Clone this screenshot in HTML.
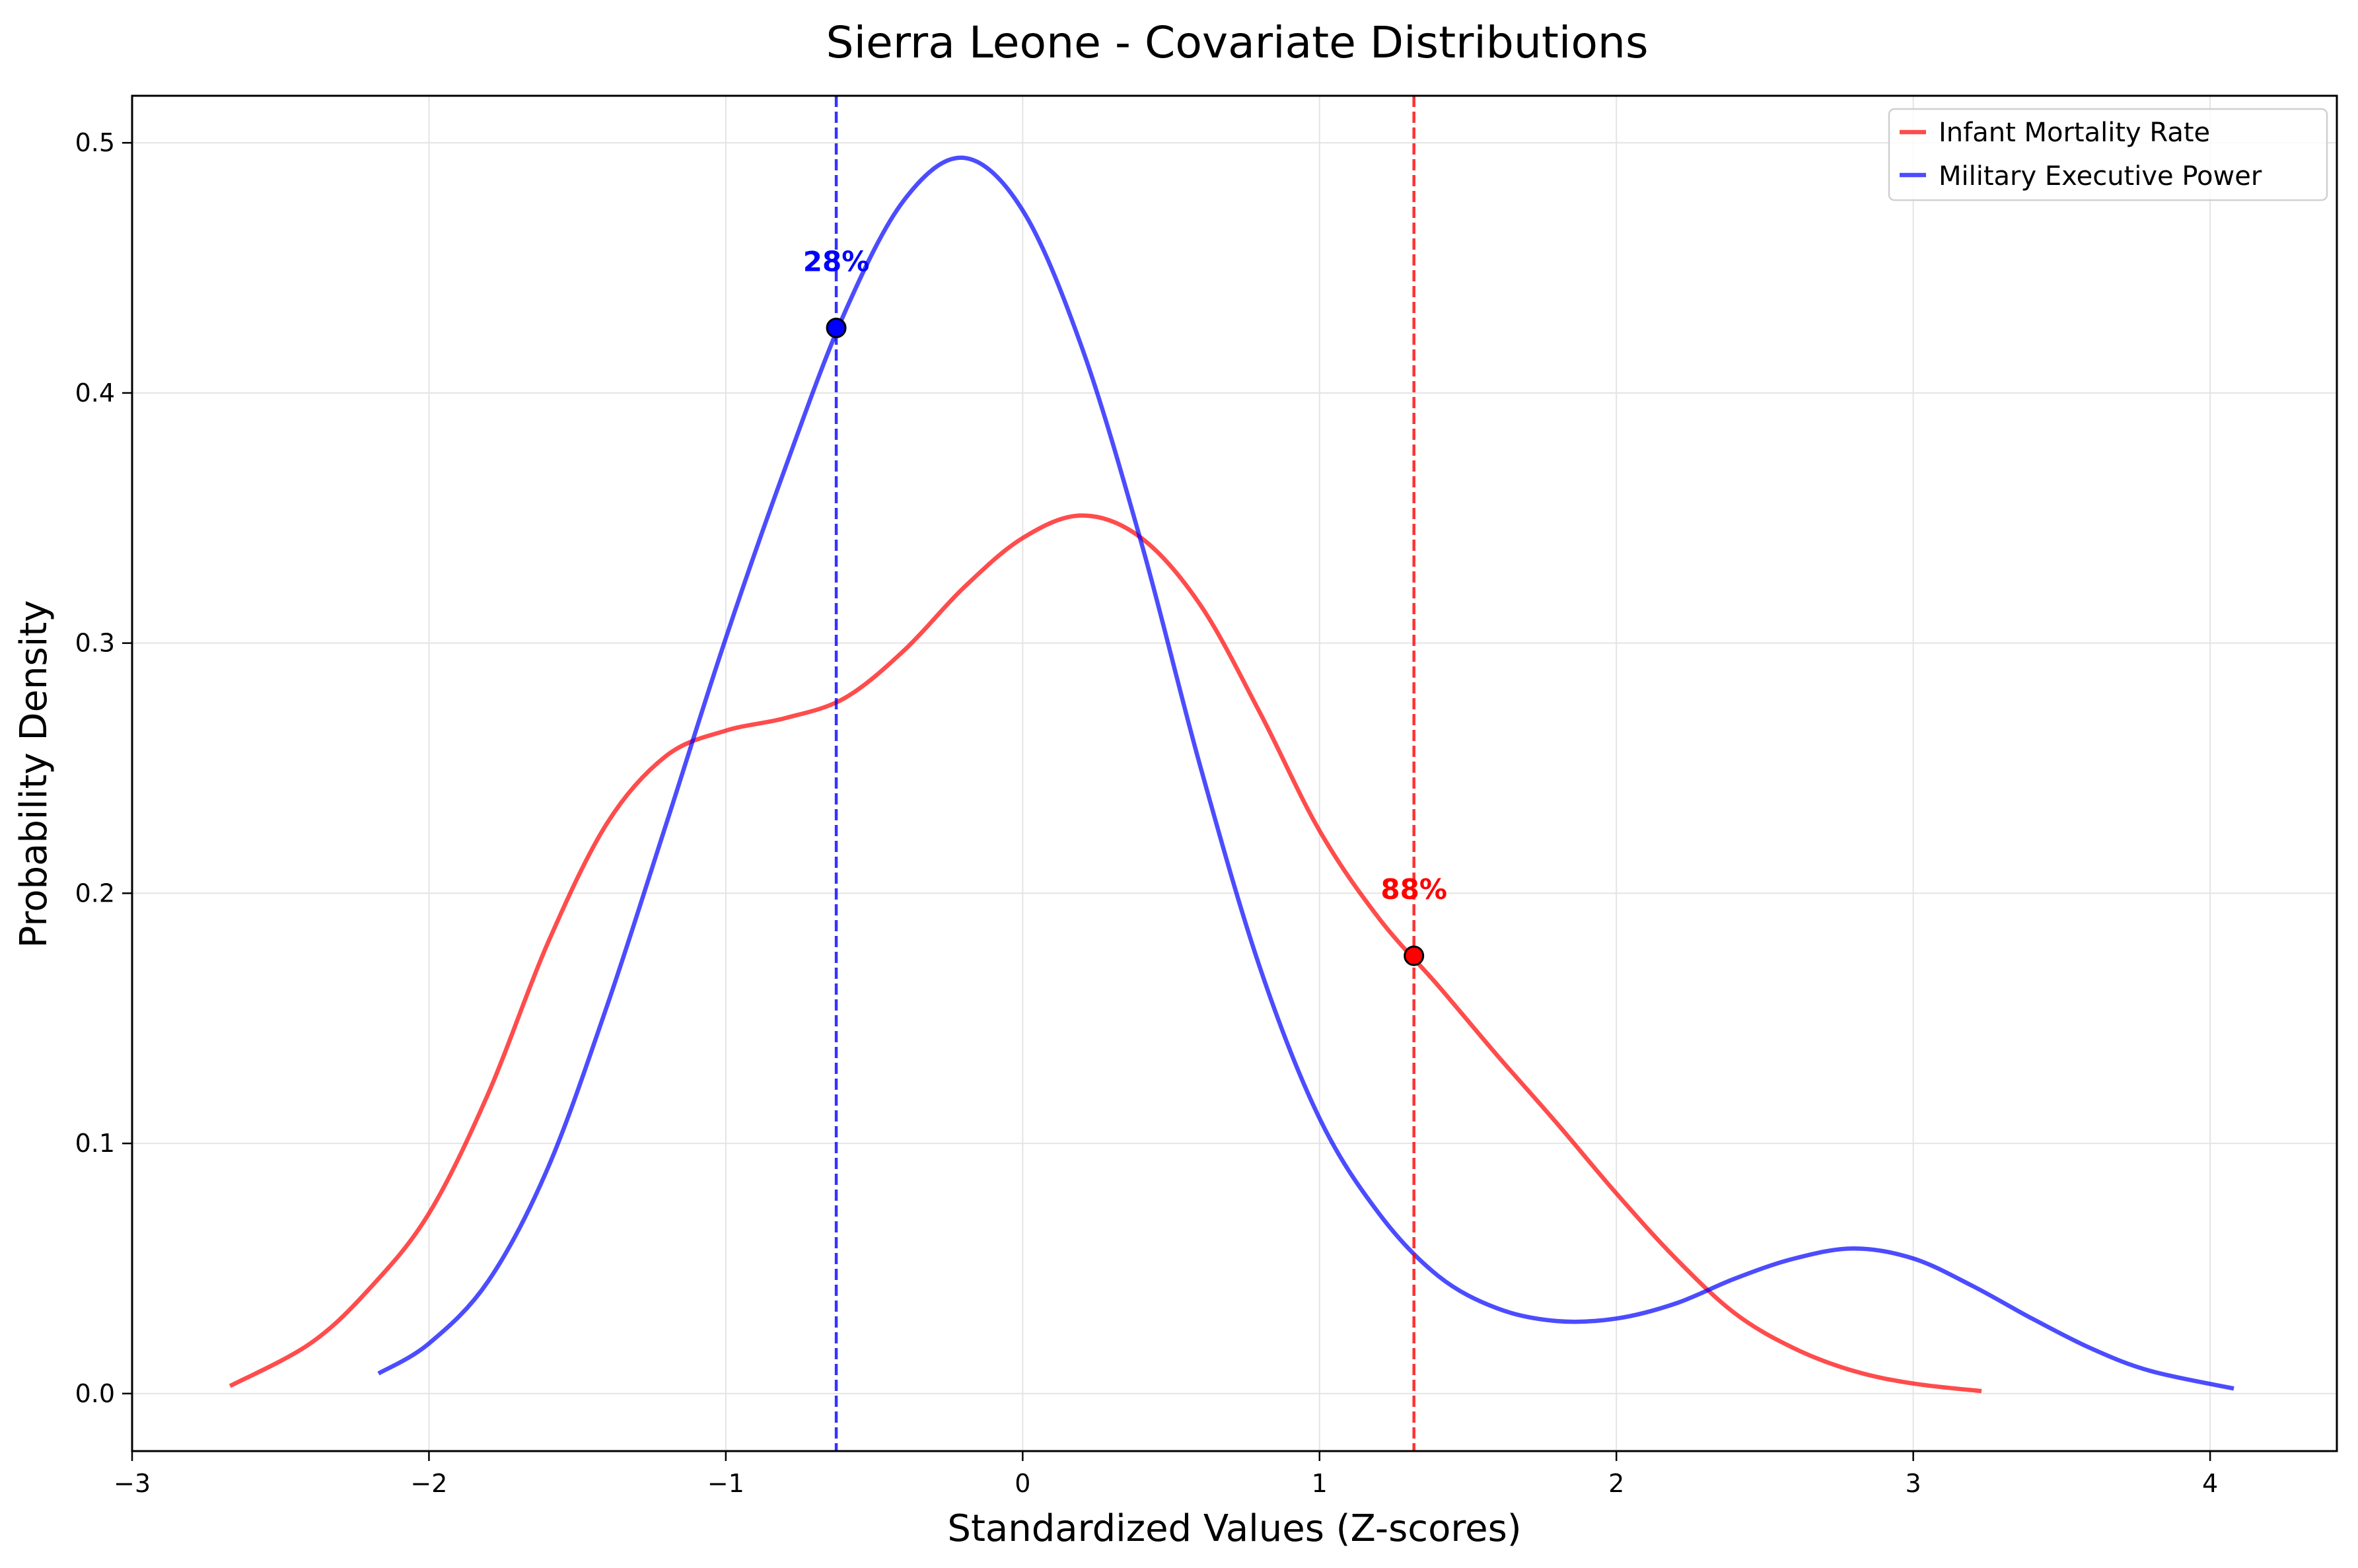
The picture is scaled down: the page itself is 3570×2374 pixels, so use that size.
<!DOCTYPE html>
<html><head><meta charset="utf-8"><style>
html,body{margin:0;padding:0;background:#fff}
svg{display:block;font-family:"DejaVu Sans","Liberation Sans",sans-serif}
</style></head><body>
<svg id="chart" width="3570" height="2374" viewBox="0 0 3570 2374">
<rect x="0" y="0" width="3570" height="2374" fill="#fff"/>
<g id="grid"></g><g id="series"></g><g id="axes"></g>
<rect x="200" y="145" width="3338" height="2052" fill="none" stroke="#000" stroke-width="3"/>
<text x="1873" y="87" font-size="66" text-anchor="middle" textLength="1245" lengthAdjust="spacingAndGlyphs">Sierra Leone - Covariate Distributions</text>
<text x="1869" y="2333" font-size="56" text-anchor="middle">Standardized Values (Z-scores)</text>
<text transform="translate(70,1172) rotate(-90)" font-size="56" text-anchor="middle">Probability Density</text>
<g>
<rect x="2860" y="165" width="663" height="138" rx="8" fill="#fff" fill-opacity="0.8" stroke="#d0d0d0" stroke-width="2.5"/>
<line x1="2876" y1="200" x2="2916" y2="200" stroke="#ff0000" stroke-opacity="0.7" stroke-width="6.5"/>
<line x1="2876" y1="265" x2="2916" y2="265" stroke="#0000ff" stroke-opacity="0.7" stroke-width="6.5"/>
<text x="2935" y="214" font-size="40">Infant Mortality Rate</text>
<text x="2935" y="280" font-size="40">Military Executive Power</text>
</g>
</svg>
<script>
const xTicks=[-3,-2,-1,0,1,2,3,4];
const yTicks=[0.0,0.1,0.2,0.3,0.4,0.5];
const yTickLabels=["0.0","0.1","0.2","0.3","0.4","0.5"];
const redX=[-2.67,-2.4,-2.2,-2.0,-1.8,-1.6,-1.4,-1.2,-1.0,-0.8,-0.6,-0.4,-0.2,0,0.2,0.4,0.6,0.8,1.0,1.2,1.4,1.6,1.8,2.0,2.2,2.4,2.6,2.8,3.0,3.23];
const redY=[0.003,0.02,0.042,0.072,0.12,0.18,0.228,0.255,0.265,0.27,0.278,0.297,0.322,0.342,0.351,0.342,0.315,0.272,0.225,0.19,0.163,0.135,0.108,0.08,0.054,0.032,0.018,0.009,0.004,0.001];
const blueX=[-2.17,-2.0,-1.8,-1.6,-1.4,-1.2,-1.0,-0.8,-0.6,-0.4,-0.2,0,0.2,0.4,0.6,0.8,1.0,1.2,1.4,1.6,1.8,2.0,2.2,2.4,2.6,2.8,3.0,3.2,3.4,3.6,3.8,4.08];
const blueY=[0.008,0.02,0.045,0.09,0.155,0.228,0.302,0.37,0.432,0.477,0.494,0.473,0.418,0.34,0.25,0.17,0.11,0.072,0.047,0.034,0.029,0.03,0.036,0.046,0.054,0.058,0.054,0.043,0.03,0.018,0.009,0.002];
const markers=[-0.628,1.318];
const markerY=[0.426,0.175];
const markerLabels=["28%","88%"];
const markerColors=["#0000ff","#ff0000"];

const L=200,R=3538,T=145,B=2197;
const X0=-3,X1=4.427,Y0=-0.023,Y1=0.5188;
const sx=v=>L+(v-X0)/(X1-X0)*(R-L);
const sy=v=>B-(v-Y0)/(Y1-Y0)*(B-T);
const NS="http://www.w3.org/2000/svg";
function mk(parent,tag,attrs,text){const e=document.createElementNS(NS,tag);for(const k in attrs)e.setAttribute(k,attrs[k]);if(text!==undefined)e.textContent=text;document.getElementById(parent).appendChild(e);return e;}

xTicks.forEach(t=>{
 const g=mk('grid','line',{x1:sx(t),x2:sx(t),y1:T,y2:B,stroke:'#e4e4e4','stroke-width':2});
 
 
 const tk=mk('axes','line',{x1:sx(t),x2:sx(t),y1:B,y2:B+15,stroke:'#000','stroke-width':2.5});
 
 
 const lb=mk('axes','text',{x:sx(t),y:B+62,'font-size':38,'text-anchor':'middle',fill:'#000'},(t<0?'\u2212':'')+Math.abs(t));
 
 
});
yTicks.forEach((t,i)=>{
 const g=mk('grid','line',{x1:L,x2:R,y1:sy(t),y2:sy(t),stroke:'#e4e4e4','stroke-width':2});
 
 
 const tk=mk('axes','line',{x1:L-15,x2:L,y1:sy(t),y2:sy(t),stroke:'#000','stroke-width':2.5});
 
 
 const lb=mk('axes','text',{x:L-26,y:sy(t)+13,'font-size':38,'text-anchor':'end',fill:'#000'},yTickLabels[i]);
 
 
});

function curve(xs,ys,color,name){
 let p='M'+sx(xs[0]).toFixed(1)+' '+sy(ys[0]).toFixed(1);
 for(let i=0;i<xs.length-1;i++){
  const x0=sx(xs[Math.max(i-1,0)]),y0=sy(ys[Math.max(i-1,0)]);
  const x1=sx(xs[i]),y1=sy(ys[i]),x2=sx(xs[i+1]),y2=sy(ys[i+1]);
  const x3=sx(xs[Math.min(i+2,xs.length-1)]),y3=sy(ys[Math.min(i+2,xs.length-1)]);
  p+=` C${(x1+(x2-x0)/6).toFixed(1)} ${(y1+(y2-y0)/6).toFixed(1)} ${(x2-(x3-x1)/6).toFixed(1)} ${(y2-(y3-y1)/6).toFixed(1)} ${x2.toFixed(1)} ${y2.toFixed(1)}`;
 }
 const e=mk('series','path',{d:p,fill:'none',stroke:color,'stroke-width':6.5,'stroke-opacity':0.7,'stroke-linejoin':'round'});
 
 
}
curve(redX,redY,'#ff0000','infant-mortality-curve');
curve(blueX,blueY,'#0000ff','military-power-curve');

markers.forEach((m,i)=>{
 const v=mk('series','line',{x1:sx(m),x2:sx(m),y1:T,y2:B,stroke:markerColors[i],'stroke-width':4.5,'stroke-opacity':0.8,'stroke-dasharray':'17 7'});
 
 
 const c=mk('series','circle',{cx:sx(m),cy:sy(markerY[i]),r:14,fill:markerColors[i],stroke:'#000','stroke-width':3});
 
 
 const t=mk('series','text',{x:sx(m),y:sy(markerY[i])-86,'font-size':42,'font-weight':'bold','text-anchor':'middle',fill:markerColors[i]},markerLabels[i]);
 
 
});
</script>
</body></html>
